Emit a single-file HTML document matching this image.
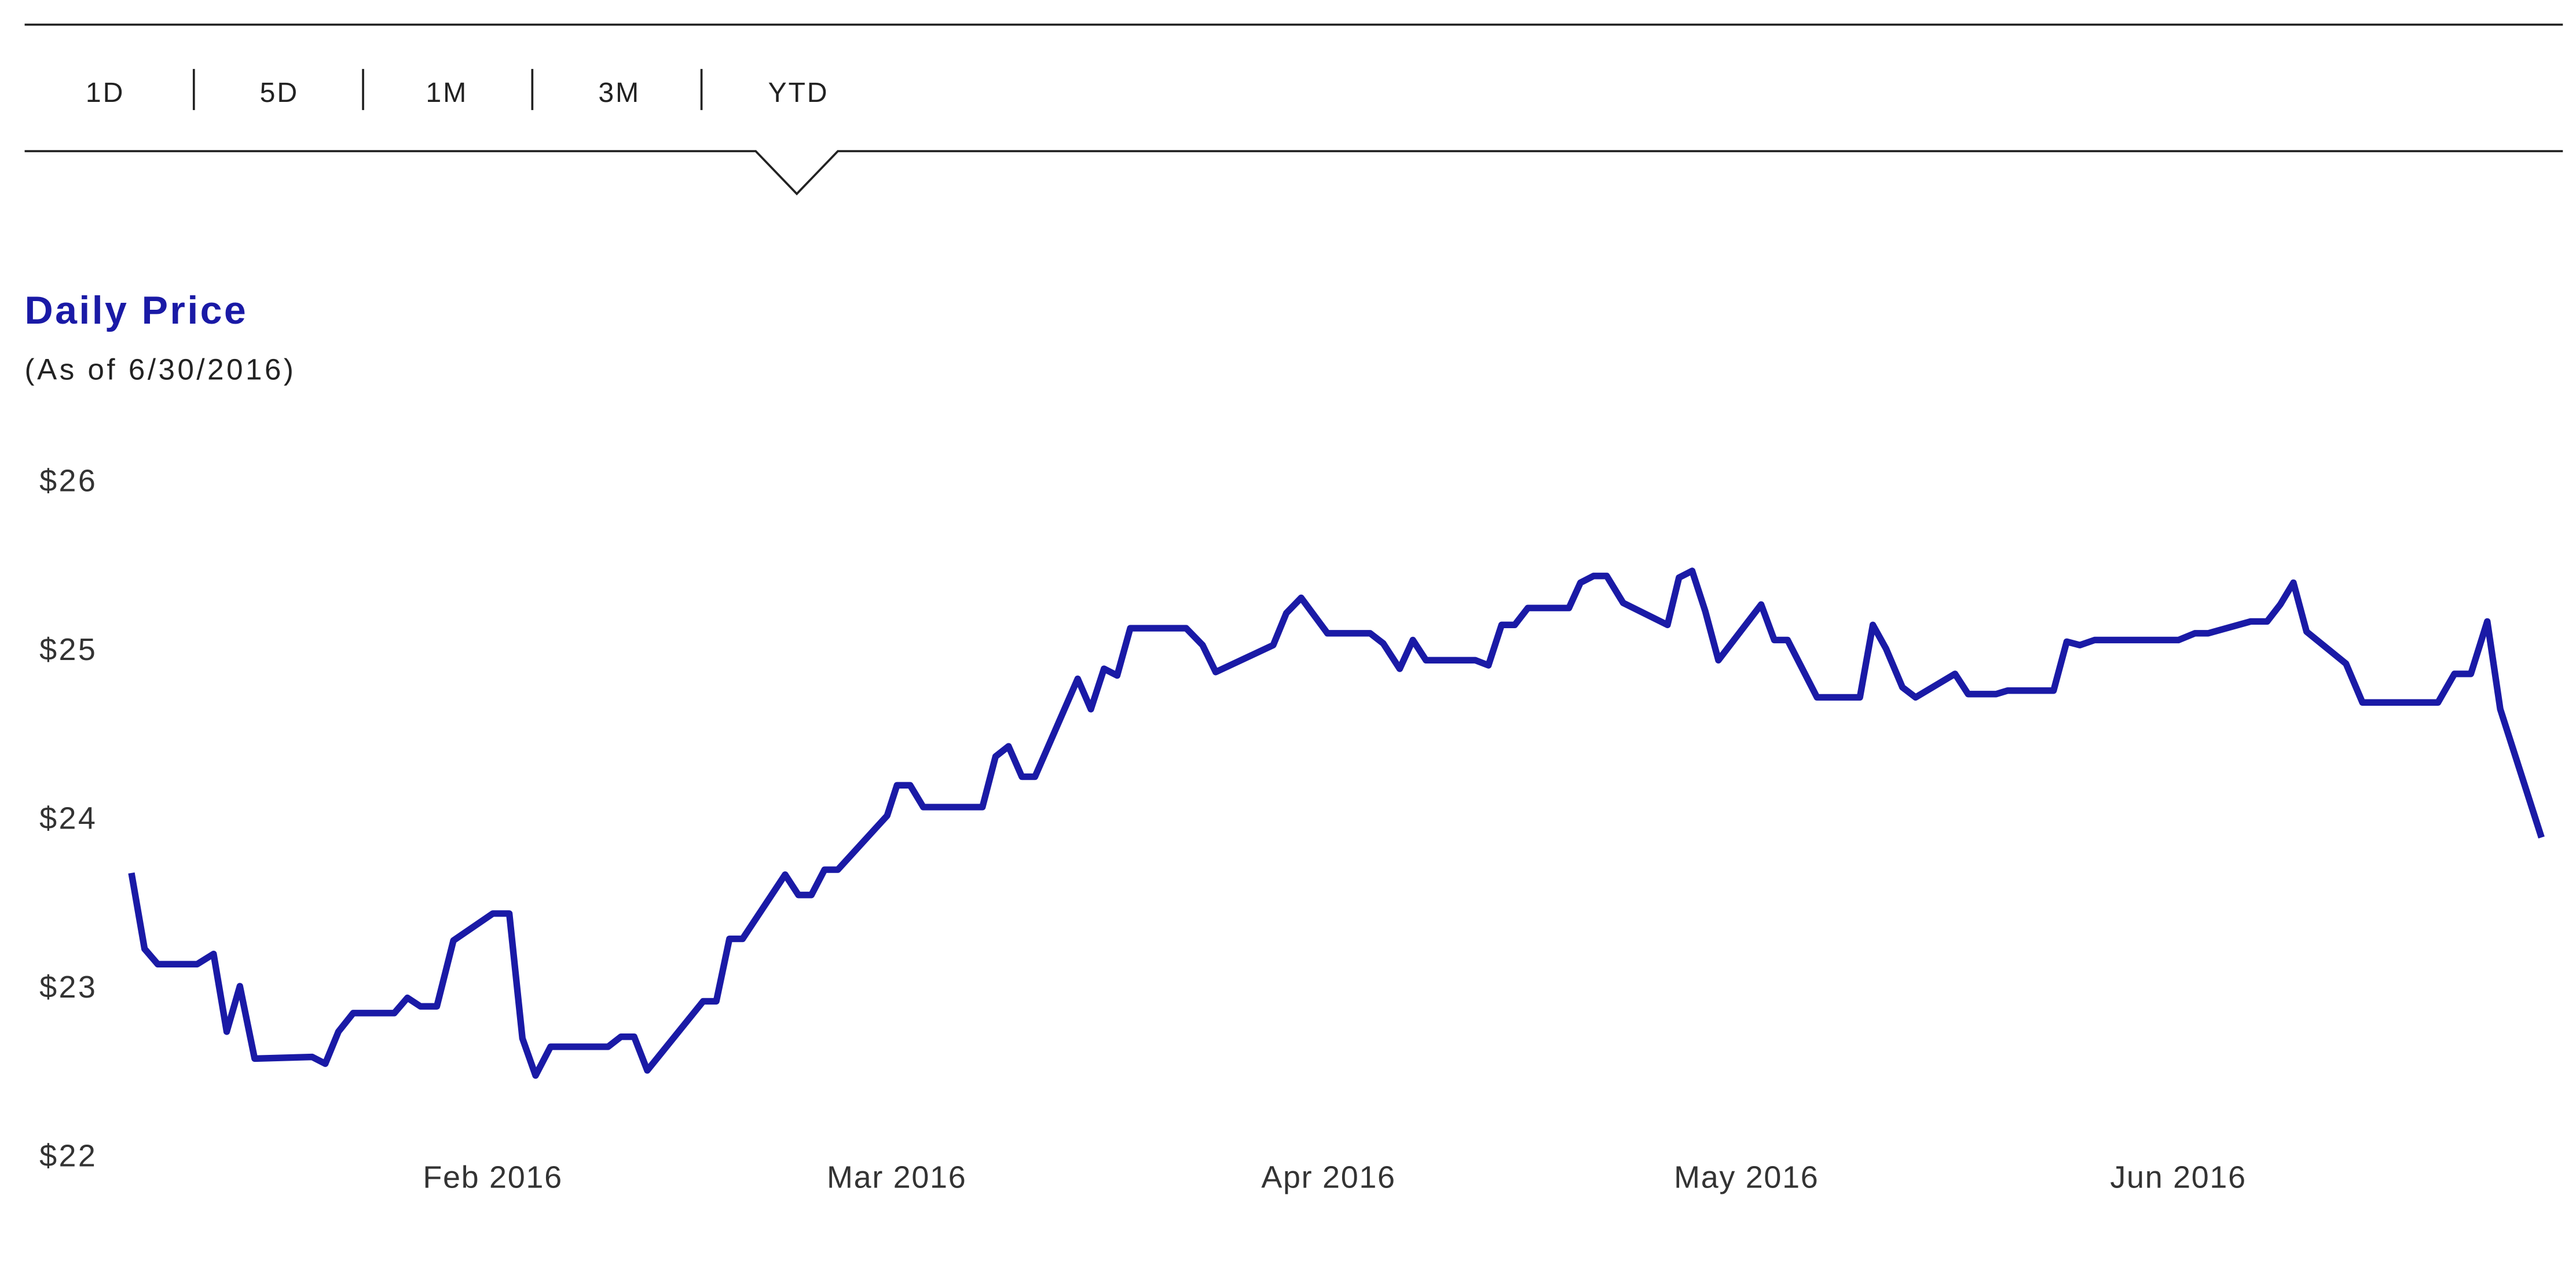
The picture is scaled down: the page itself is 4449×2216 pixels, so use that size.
<!DOCTYPE html>
<html><head><meta charset="utf-8">
<style>
html,body{margin:0;padding:0;background:#fff;}
body{width:4449px;height:2216px;overflow:hidden;}
svg{display:block;font-family:"Liberation Sans",sans-serif;}
</style></head>
<body>
<svg id="chart" width="4449" height="2216" viewBox="0 0 1568 781" preserveAspectRatio="none" xmlns="http://www.w3.org/2000/svg">
  <line x1="15" y1="15" x2="1560" y2="15" stroke="#222" stroke-width="1.3"/>
  <g font-size="17" fill="#222" text-anchor="middle" letter-spacing="1">
    <text x="64" y="62">1D</text>
    <text x="170" y="62">5D</text>
    <text x="272" y="62">1M</text>
    <text x="377" y="62">3M</text>
    <text x="486" y="62">YTD</text>
    <line x1="118" y1="42" x2="118" y2="67" stroke="#222" stroke-width="1.3"/>
    <line x1="221" y1="42" x2="221" y2="67" stroke="#222" stroke-width="1.3"/>
    <line x1="324" y1="42" x2="324" y2="67" stroke="#222" stroke-width="1.3"/>
    <line x1="427" y1="42" x2="427" y2="67" stroke="#222" stroke-width="1.3"/>
  </g>
  <polyline points="15,92 460,92 485,118 510,92 1560,92" fill="none" stroke="#222" stroke-width="1.3"/>
  <text x="15" y="197" font-size="24" font-weight="bold" fill="#1a1aa6" letter-spacing="1.2">Daily Price</text>
  <text x="15" y="231" font-size="18" fill="#222" letter-spacing="1.6">(As of 6/30/2016)</text>
  <g id="yaxis"></g>
  <g id="xaxis"></g>
  <g id="plot"></g>
</svg>
<script>
const yTicks = [22, 23, 24, 25, 26];
const xTickDays = [31, 60, 91, 121, 152];
const xTickLabels = ["Feb 2016", "Mar 2016", "Apr 2016", "May 2016", "Jun 2016"];
const days = [5.06,6.0,6.95,9.78,10.96,11.9,12.84,13.9,18.03,18.98,19.92,20.98,23.93,24.87,25.81,26.99,28.17,31.01,32.19,33.13,34.07,35.14,39.27,40.2,41.15,42.09,46.1,47.04,47.99,48.93,51.99,52.94,53.88,54.82,55.77,59.31,60.02,60.96,61.9,66.15,67.09,68.03,68.98,69.92,72.99,73.93,74.88,75.82,76.77,80.78,81.96,82.9,87.03,87.97,89.03,90.92,93.98,94.93,96.11,97.05,97.99,101.53,102.48,103.42,104.36,105.31,108.26,109.08,110.02,110.97,112.15,115.33,116.16,117.1,118.05,118.99,122.06,123.0,123.95,126.07,129.14,130.08,131.02,132.2,133.14,135.97,136.92,138.92,139.75,143.05,143.99,144.94,146.0,152.01,153.19,154.14,157.2,158.38,159.32,160.27,161.21,164.04,165.22,170.64,171.82,173.0,174.18,175.12,178.07];
const prices = [23.67,23.22,23.13,23.13,23.19,22.73,23.0,22.57,22.58,22.54,22.73,22.84,22.84,22.93,22.88,22.88,23.27,23.43,23.43,22.69,22.47,22.64,22.64,22.70,22.70,22.50,22.91,22.91,23.28,23.28,23.66,23.54,23.54,23.69,23.69,24.01,24.19,24.19,24.06,24.06,24.36,24.42,24.24,24.24,24.82,24.64,24.88,24.84,25.12,25.12,25.02,24.86,25.02,25.21,25.30,25.09,25.09,25.03,24.88,25.05,24.93,24.93,24.90,25.14,25.14,25.24,25.24,25.39,25.43,25.43,25.27,25.14,25.42,25.46,25.22,24.93,25.26,25.05,25.05,24.71,24.71,25.14,25.0,24.77,24.71,24.85,24.73,24.73,24.75,24.75,25.04,25.02,25.05,25.05,25.09,25.09,25.16,25.16,25.26,25.39,25.10,24.91,24.68,24.68,24.85,24.85,25.16,24.64,23.88];

const NS = "http://www.w3.org/2000/svg";
function xScale(d){ return 37.1 + 8.479 * d; }
function yScale(v){ return 292 + (26 - v) * 102.75; }

const yaxis = document.getElementById('yaxis');
yTicks.forEach(v => {
  const t = document.createElementNS(NS, 'text');
  
  
  t.setAttribute('x', 24); t.setAttribute('y', yScale(v) + 7);
  t.setAttribute('font-size', '19'); t.setAttribute('fill', '#333');
  t.setAttribute('letter-spacing', '1.2');
  t.textContent = '$' + v;
  yaxis.appendChild(t);
});
const xaxis = document.getElementById('xaxis');
xTickDays.forEach((d, i) => {
  const t = document.createElementNS(NS, 'text');
  
  
  t.setAttribute('x', xScale(d)); t.setAttribute('y', 723);
  t.setAttribute('font-size', '19'); t.setAttribute('fill', '#333');
  t.setAttribute('letter-spacing', '0.6');
  t.setAttribute('text-anchor', 'middle');
  t.textContent = xTickLabels[i];
  xaxis.appendChild(t);
});
const plot = document.getElementById('plot');
const line = document.createElementNS(NS, 'polyline');


line.setAttribute('points', days.map((d, i) => xScale(d).toFixed(1) + ',' + yScale(prices[i]).toFixed(1)).join(' '));
line.setAttribute('fill', 'none');
line.setAttribute('stroke', '#1a1aa6');
line.setAttribute('stroke-width', '4');
line.setAttribute('stroke-linejoin', 'round');
plot.appendChild(line);
</script>
</body></html>
